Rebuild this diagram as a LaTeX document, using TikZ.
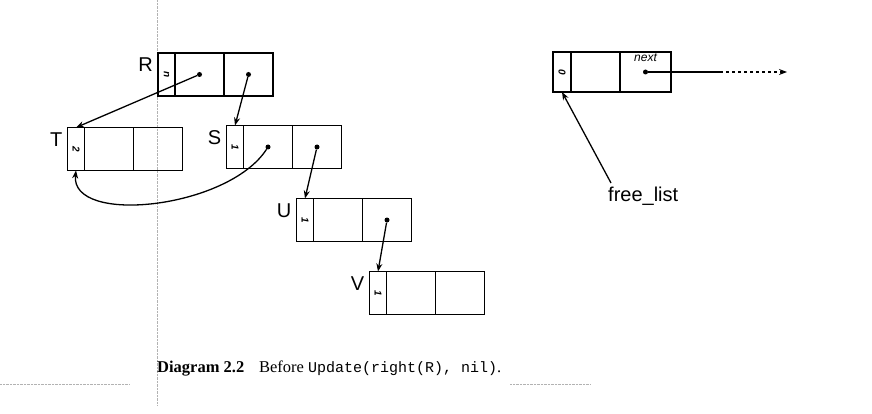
\documentclass[tikz,border=0pt]{standalone}
\usepackage{fontspec}
\setmainfont{Liberation Serif}
\setsansfont{Liberation Sans}
\setmonofont{Liberation Mono}
\usetikzlibrary{positioning,arrows.meta}
\tikzset{
    count-cell/.style = {draw, line width=1.8pt, minimum width=17pt, minimum height=43pt, inner sep=0pt, outer sep=0pt},
    field-cell/.style = {draw, line width=1.8pt, minimum width=49pt, minimum height=43pt, inner sep=0pt, outer sep=0pt},
    rec-label/.style = {font=\sffamily\fontsize{20}{20}\selectfont, inner sep=1pt},
    ptr-dot/.style = {circle, fill, inner sep=0pt, minimum size=5pt},
    ptr/.style = {line width=1.3pt, -{Stealth[length=8pt,width=6pt]}},
}
\newcommand{\countval}[1]{\rotatebox{-90}{\sffamily\bfseries\itshape\fontsize{10}{10}\selectfont #1}}

\begin{document}
\begin{tikzpicture}[x=1pt, y=-1pt]
\useasboundingbox (0,0) rectangle (872,414);
% margin marks of the page
\draw[gray!60, densely dotted] (157,0) -- (157,405);
\draw[gray!60, densely dotted] (0,384) -- (130,384);
\draw[gray!60, densely dotted] (510,384) -- (590,384);

% records
\node[count-cell] (R0) at (166.5,74.5) {\countval{n}};
\node[field-cell, right=0pt of R0] (R1) {};
\node[field-cell, right=0pt of R1] (R2) {};
\node[rec-label, below left=4pt and 4pt of R0.north west] (Rl) {R};

\node[count-cell] (T0) at (76,149) {\countval{2}};
\node[field-cell, right=0pt of T0] (T1) {};
\node[field-cell, right=0pt of T1] (T2) {};
\node[rec-label, below left=4pt and 4pt of T0.north west] (Tl) {T};

\node[count-cell] (S0) at (235,147) {\countval{1}};
\node[field-cell, right=0pt of S0] (S1) {};
\node[field-cell, right=0pt of S1] (S2) {};
\node[rec-label, below left=4pt and 4pt of S0.north west] (Sl) {S};

\node[count-cell] (U0) at (305,220) {\countval{1}};
\node[field-cell, right=0pt of U0] (U1) {};
\node[field-cell, right=0pt of U1] (U2) {};
\node[rec-label, below left=4pt and 4pt of U0.north west] (Ul) {U};

\node[count-cell] (V0) at (378,293) {\countval{1}};
\node[field-cell, right=0pt of V0] (V1) {};
\node[field-cell, right=0pt of V1] (V2) {};
\node[rec-label, below left=4pt and 4pt of V0.north west] (Vl) {V};

% free list record
\node[count-cell, minimum height=40pt, minimum width=18pt] (F0) at (562,72) {\countval{0}};
\node[field-cell, minimum height=40pt, right=0pt of F0] (F1) {};
\node[field-cell, minimum height=40pt, minimum width=51pt, right=0pt of F1] (F2) {};
\node[font=\sffamily\itshape\fontsize{12}{12}\selectfont, inner sep=1.5pt, below=0pt of F2.north] (nextl) {next};
\node[rec-label, anchor=north west] (fl) at (607,186) {free\_list};

% pointers
\node[ptr-dot] (Rd1) at (R1.center) {};
\node[ptr-dot] (Rd2) at (R2.center) {};
\node[ptr-dot] (Sd1) at (S1.center) {};
\node[ptr-dot] (Sd2) at (S2.center) {};
\node[ptr-dot] (Ud2) at (U2.center) {};
\node[ptr-dot] (Fd2) at (F2.center) {};
\coordinate (Fmid) at (720,72);
\coordinate (Fend) at (787,72);

\draw[ptr] (Rd1) -- (T0.north);
\draw[ptr] (Rd2) -- (S0.north);
\draw[ptr] (Sd1) .. controls +(-40,62) and +(-6,55) .. (T0.south);
\draw[ptr] (Sd2) -- (U0.north);
\draw[ptr] (Ud2) -- (V0.north);
\draw[line width=1.3pt] (Fd2) -- (Fmid);
\draw[ptr, dashed] (Fmid) -- (Fend);
\draw[ptr] ([shift={(4pt,3pt)}]fl.north west) -- (F0.south);

% caption
\node[anchor=base west, inner sep=0pt, font=\fontsize{16.5}{16.5}\selectfont] (caption) at (157,372)
    {\textbf{Diagram 2.2}\hspace{0.9em}Before \texttt{\fontsize{15}{15}\selectfont Update(right(R), nil)}.};
\end{tikzpicture}
\end{document}
